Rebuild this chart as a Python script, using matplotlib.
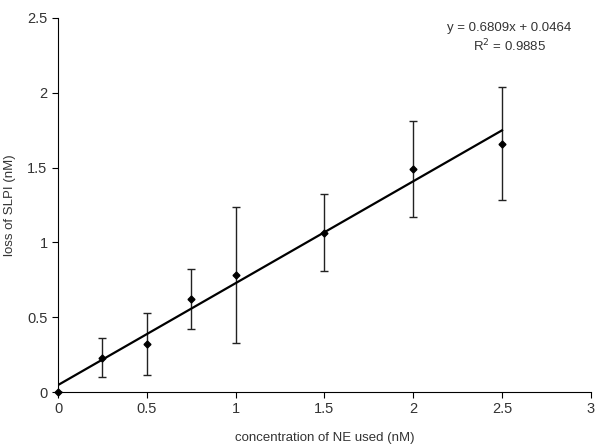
import matplotlib
matplotlib.use("Agg")
import matplotlib.pyplot as plt
import numpy as np

plt.rcParams['font.family'] = ['Liberation Sans', 'DejaVu Sans']

conc = [0, 0.25, 0.5, 0.75, 1.0, 1.5, 2.0, 2.5]
loss = [0.0, 0.23, 0.32, 0.62, 0.78, 1.065, 1.49, 1.66]
err = [0.0, 0.13, 0.205, 0.2, 0.455, 0.255, 0.32, 0.375]
slope, intercept = 0.6809, 0.0464
fit_x = [0, 2.5]

fig = plt.figure(figsize=(6, 4.48), dpi=100)
ax = fig.add_axes([0.0967, 0.125, 0.888, 0.835])

ax.errorbar(conc, loss, yerr=err, fmt='none', ecolor='#222222', elinewidth=1, capsize=3, capthick=1)
fx = np.array(fit_x)
ax.plot(fx, slope * fx + intercept, color='black', lw=1.6)
ax.plot(conc, loss, 'D', color='black', ms=3.5, clip_on=False, zorder=5)

ax.set_xlim(0, 3)
ax.set_ylim(0, 2.5)
ax.set_xticks([0, 0.5, 1, 1.5, 2, 2.5, 3])
ax.set_xticklabels(['0', '0.5', '1', '1.5', '2', '2.5', '3'])
ax.set_yticks([0, 0.5, 1, 1.5, 2, 2.5])
ax.set_yticklabels(['0', '0.5', '1', '1.5', '2', '2.5'])
for s in ['top', 'right']:
    ax.spines[s].set_visible(False)
for s in ['left', 'bottom']:
    ax.spines[s].set_linewidth(0.8)
ax.tick_params(direction='out', length=4, width=0.8, labelsize=10.5, colors='black', labelcolor='#333333')
ax.set_xlabel('concentration of NE used (nM)', fontsize=9.5, color='#333333', labelpad=11)
ax.set_ylabel('loss of SLPI (nM)', fontsize=9.5, color='#333333', labelpad=8)

ax.text(2.54, 2.43, 'y = 0.6809x + 0.0464', ha='center', va='center', fontsize=9.5, color='#333333')
ax.text(2.54, 2.31, 'R$^2$ = 0.9885', ha='center', va='center', fontsize=9.5, color='#333333')

fig.savefig('out.png', dpi=100)
